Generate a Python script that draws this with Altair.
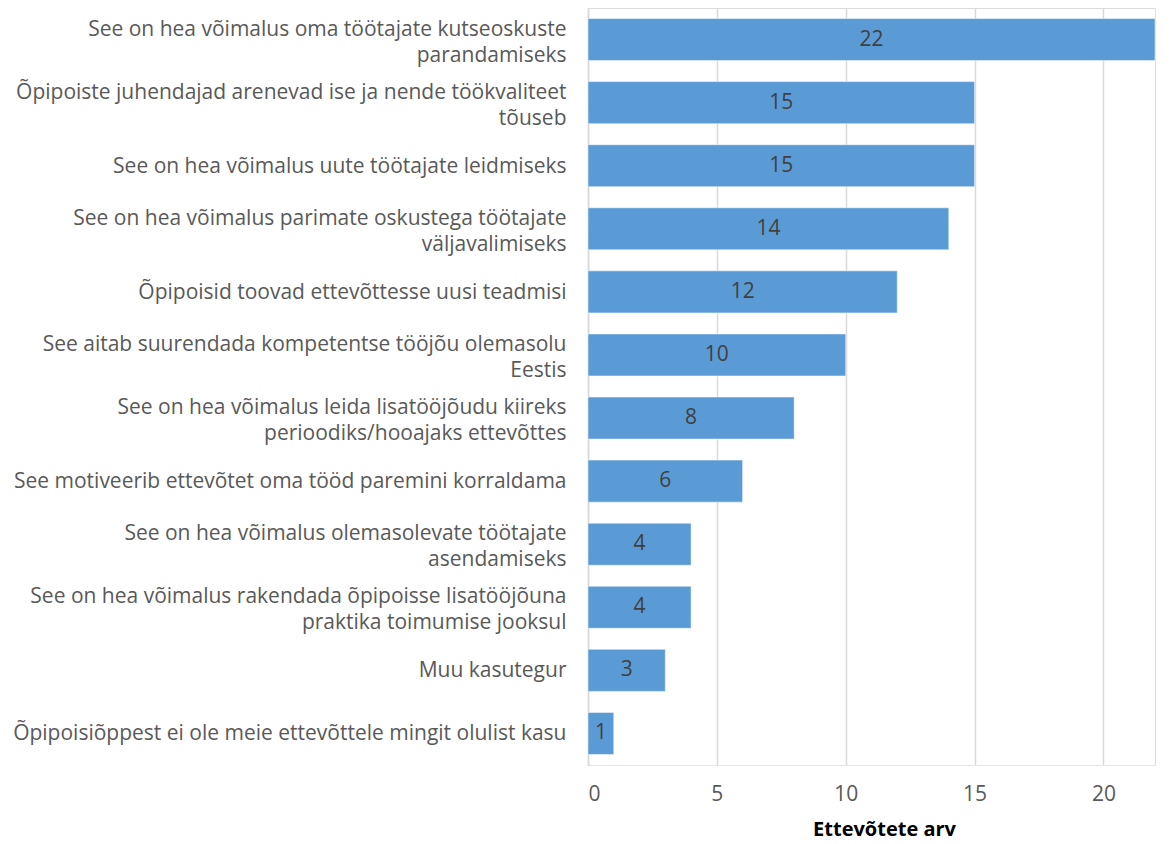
import altair as alt
import pandas as pd

categories = [
    "See on hea võimalus oma töötajate kutseoskuste|parandamiseks",
    "Õpipoiste juhendajad arenevad ise ja nende töökvaliteet|tõuseb",
    "See on hea võimalus uute töötajate leidmiseks",
    "See on hea võimalus parimate oskustega töötajate|väljavalimiseks",
    "Õpipoisid toovad ettevõttesse uusi teadmisi",
    "See aitab suurendada kompetentse tööjõu olemasolu|Eestis",
    "See on hea võimalus leida lisatööjõudu kiireks|perioodiks/hooajaks ettevõttes",
    "See motiveerib ettevõtet oma tööd paremini korraldama",
    "See on hea võimalus olemasolevate töötajate|asendamiseks",
    "See on hea võimalus rakendada õpipoisse lisatööjõuna|praktika toimumise jooksul",
    "Muu kasutegur",
    "Õpipoisiõppest ei ole meie ettevõttele mingit olulist kasu",
]
values = [22, 15, 15, 14, 12, 10, 8, 6, 4, 4, 3, 1]
x_title = "Ettevõtete arv"

df = pd.DataFrame({"cat": categories, "val": values})

FONT = "Open Sans"

y_enc = alt.Y(
    "cat:N",
    sort=categories,
    title=None,
    scale=alt.Scale(paddingInner=0.333, paddingOuter=0.167),
    axis=alt.Axis(
        labelExpr="split(datum.label, '|')",
        labelFont=FONT,
        labelFontSize=21,
        labelColor="#595959",
        labelPadding=22,
        labelLimit=800,
        labelLineHeight=26,
        labelOffset={"expr": "indexof(datum.label, '|') >= 0 ? -10 : 1"},
        ticks=False,
        domain=True,
        domainColor="#D9D9D9",
        domainWidth=1.5,
        grid=False,
    ),
)

x_enc = alt.X(
    "val:Q",
    title=x_title,
    scale=alt.Scale(domain=[0, 22], nice=False, zero=True),
    axis=alt.Axis(
        values=[0, 5, 10, 15, 20],
        labelFont=FONT,
        labelFontSize=21,
        labelColor="#595959",
        labelPadding=18,
        ticks=False,
        domain=True,
        domainColor="#DCE6F1",
        domainWidth=1.2,
        grid=True,
        gridColor="#D9D9D9",
        gridWidth=1.5,
        titleFont=FONT,
        titleFontSize=20,
        titleFontWeight="bold",
        titleColor="#000000",
        titlePadding=15,
        titleX=296,
    ),
)

bars = alt.Chart(df).mark_bar(color="#5B9BD5", stroke="#FFFFFF", strokeWidth=0.5).encode(
    x=x_enc, y=y_enc
)

text = alt.Chart(df).transform_calculate(mid="datum.val / 2").mark_text(
    font=FONT, fontSize=21, color="#404040", align="center", baseline="middle"
).encode(
    x=alt.X("mid:Q", scale=alt.Scale(domain=[0, 22], nice=False, zero=True)),
    y=alt.Y("cat:N", sort=categories),
    text="val:Q",
)

chart = (
    alt.layer(bars, text)
    .properties(
        width=567,
        height=757,
        autosize=alt.AutoSizeParams(type="none"),
        padding={"left": 580, "top": 0, "right": 10, "bottom": 80},
    )
    .configure_view(stroke=None)
    .configure(background="#FFFFFF")
)

chart.save("out.html", embed_options={"renderer": "svg", "actions": False})
